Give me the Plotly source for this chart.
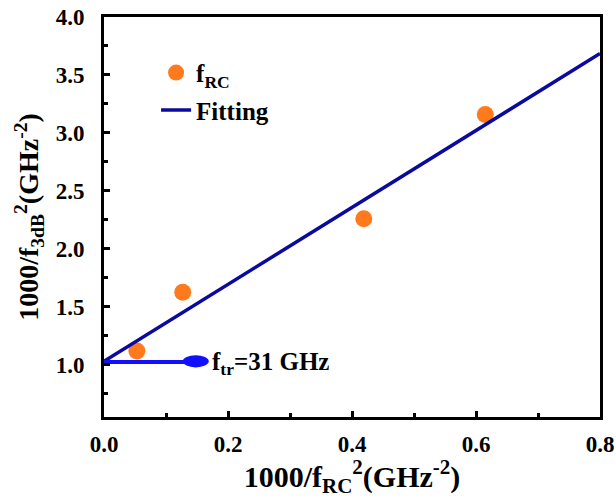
import plotly.graph_objects as go

# data
x_frc = [0.053, 0.127, 0.419, 0.615]
y_f3db = [1.12, 1.625, 2.26, 3.16]
fit_x = [0.0, 0.8]
fit_y = [1.03, 3.685]
ftr_line_x = [0.0, 0.135]
ftr_line_y = [1.025, 1.025]
ftr_head_x = 0.148
ftr_head_y = 1.03
ftr_label = "f<sub>tr</sub>=31 GHz"

FONT = "Liberation Serif"

fig = go.Figure()
fig.add_trace(go.Scatter(x=x_frc, y=y_f3db, mode="markers", name="<b>f<sub>RC</sub></b>",
                         legendgroup="a",
                         marker=dict(size=17, color="#ff7a1c", line=dict(width=0))))
fig.add_trace(go.Scatter(x=fit_x, y=fit_y, mode="lines", name="<b>Fitting</b>",
                         legendgroup="b",
                         line=dict(color="#0a0a9e", width=3.5)))
fig.add_trace(go.Scatter(x=ftr_line_x, y=ftr_line_y, mode="lines", showlegend=False,
                         line=dict(color="#1010ff", width=4)))
fig.add_shape(type="circle", xref="x", yref="y",
              x0=ftr_head_x - 0.021, x1=ftr_head_x + 0.021,
              y0=ftr_head_y - 0.052, y1=ftr_head_y + 0.052,
              fillcolor="#1010ff", line=dict(width=0))
fig.add_annotation(x=ftr_head_x + 0.021, y=ftr_head_y, xref="x", yref="y",
                   text="<b>" + ftr_label + "</b>", showarrow=False,
                   xanchor="left", yanchor="middle", xshift=1, yshift=-2,
                   font=dict(family=FONT, size=25, color="black"))

axis_common = dict(showline=True, linecolor="black", linewidth=3, mirror=True,
                   ticks="inside", ticklen=6, tickwidth=2.5, tickcolor="black",
                   showgrid=False, zeroline=False, automargin=False,
                   tickfont=dict(family=FONT, size=23, color="black", weight="bold"))

fig.update_xaxes(range=[0, 0.8], dtick=0.2, tickformat=".1f", ticklabelstandoff=4,
                 minor=dict(dtick=0.1, ticks="inside", ticklen=4, tickwidth=2.5, tickcolor="black", showgrid=False),
                 title=dict(text="<b>1000/f<sub>RC</sub><sup>2</sup>(GHz<sup>-2</sup>)</b>",
                            font=dict(family=FONT, size=30, color="black"), standoff=11),
                 **axis_common)
fig.update_yaxes(range=[0.55, 4.0], tick0=1.0, dtick=0.5, tickformat=".1f", ticklabelstandoff=12,
                 minor=dict(dtick=0.25, tick0=1.0, ticks="inside", ticklen=4, tickwidth=2.5, tickcolor="black", showgrid=False),
                 title=dict(text="<b>1000/f<sub>3dB</sub><sup>2</sup>(GHz<sup>-2</sup>)</b>",
                            font=dict(family=FONT, size=28, color="black"), standoff=9),
                 **axis_common)

fig.update_layout(
    width=616, height=498,
    margin=dict(l=104, r=16, t=17, b=81),
    plot_bgcolor="white", paper_bgcolor="white",
    font=dict(family=FONT, color="black"),
    legend=dict(x=0.105, y=0.918, xanchor="left", yanchor="top",
                bgcolor="rgba(0,0,0,0)", font=dict(family=FONT, size=25, color="black"),
                tracegroupgap=2),
)

fig.write_html("out.html")
